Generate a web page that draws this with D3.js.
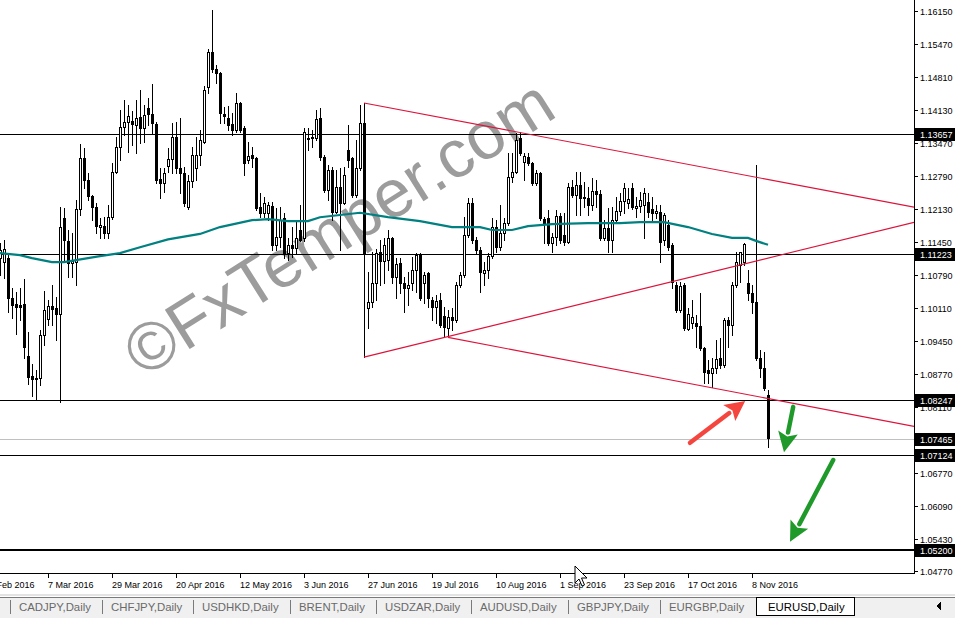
<!DOCTYPE html>
<html>
<head>
<meta charset="utf-8">
<script src="https://cdn.jsdelivr.net/npm/d3@7"></script>
<style>
  body { margin: 0; background: #fff; overflow: hidden; }
  svg { display: block; }
  text { font-family: "Liberation Sans", Arial, sans-serif; }
</style>
</head>
<body>
<svg id="chart" width="955" height="618"></svg>
<script>
// EURUSD daily, 18 Feb 2016 .. 14 Nov 2016 (one bar per weekday)
const opens = [
  1.1113,1.1105,1.1113,1.1032,1.1020,1.1018,1.1020,1.0914,1.0874,1.0870,
  1.0870,1.0957,1.0989,1.1016,1.1012,1.1000,1.1195,1.1148,1.1103,1.1105,
  1.1213,1.1316,1.1272,1.1239,1.1217,1.1176,1.1178,1.1164,1.1197,1.1288,
  1.1339,1.1379,1.1389,1.1391,1.1383,1.1400,1.1377,1.1418,1.1406,1.1385,
  1.1274,1.1266,1.1300,1.1314,1.1359,1.1296,1.1286,1.1217,1.1270,1.1296,
  1.1322,1.1349,1.1460,1.1531,1.1497,1.1489,1.1406,1.1397,1.1385,1.1373,
  1.1428,1.1377,1.1312,1.1322,1.1316,1.1217,1.1205,1.1205,1.1219,1.1140,
  1.1156,1.1195,1.1123,1.1140,1.1134,1.1170,1.1154,1.1355,1.1357,1.1357,
  1.1397,1.1318,1.1251,1.1292,1.1207,1.1257,1.1225,1.1333,1.1316,1.1241,
  1.1296,1.1387,1.1012,1.1024,1.1063,1.1125,1.1107,1.1109,1.1154,1.1075,
  1.1103,1.1063,1.1052,1.1063,1.1089,1.1119,1.1063,1.1083,1.1028,1.1014,
  1.1028,1.0996,1.0971,1.0994,1.0987,1.1059,1.1079,1.1160,1.1225,1.1150,
  1.1130,1.1083,1.1089,1.1117,1.1176,1.1136,1.1164,1.1184,1.1278,1.1288,
  1.1357,1.1308,1.1318,1.1306,1.1266,1.1286,1.1193,1.1195,1.1144,1.1156,
  1.1199,1.1160,1.1146,1.1257,1.1241,1.1262,1.1237,1.1235,1.1221,1.1249,
  1.1243,1.1154,1.1174,1.1150,1.1190,1.1209,1.1229,1.1225,1.1255,1.1215,
  1.1219,1.1221,1.1227,1.1213,1.1205,1.1207,1.1150,1.1180,1.1140,1.1059,
  1.1008,1.1059,1.0969,1.0981,1.0981,1.0975,1.0931,1.0886,1.0880,1.0890,
  1.0910,1.0896,1.0987,1.0977,1.1059,1.1099,1.1105,1.1063,1.1042,1.1024,
  1.0910,1.0890,1.0835
];
const highs = [
  1.1144,1.1150,1.1123,1.1052,1.1044,1.1052,1.1071,1.0963,1.0898,1.0886,
  1.0967,1.1046,1.1028,1.1059,1.1034,1.1217,1.1215,1.1170,1.1164,1.1231,
  1.1345,1.1337,1.1286,1.1241,1.1225,1.1195,1.1197,1.1221,1.1306,1.1359,
  1.1414,1.1434,1.1424,1.1412,1.1434,1.1454,1.1424,1.1438,1.1466,1.1389,
  1.1296,1.1296,1.1337,1.1387,1.1389,1.1397,1.1298,1.1282,1.1339,1.1359,
  1.1373,1.1462,1.1538,1.1617,1.1505,1.1491,1.1420,1.1422,1.1408,1.1448,
  1.1430,1.1381,1.1349,1.1339,1.1318,1.1245,1.1237,1.1227,1.1227,1.1215,
  1.1217,1.1205,1.1154,1.1176,1.1190,1.1221,1.1377,1.1377,1.1373,1.1414,
  1.1418,1.1322,1.1302,1.1298,1.1292,1.1296,1.1298,1.1383,1.1318,1.1353,
  1.1424,1.1428,1.1085,1.1125,1.1132,1.1150,1.1154,1.1170,1.1156,1.1113,
  1.1113,1.1075,1.1085,1.1115,1.1123,1.1123,1.1085,1.1085,1.1034,1.1038,
  1.1042,1.1014,1.1008,1.1012,1.1065,1.1085,1.1197,1.1235,1.1235,1.1156,
  1.1136,1.1105,1.1123,1.1195,1.1190,1.1221,1.1195,1.1326,1.1326,1.1367,
  1.1369,1.1326,1.1326,1.1308,1.1292,1.1288,1.1197,1.1211,1.1164,1.1211,
  1.1205,1.1205,1.1266,1.1272,1.1288,1.1288,1.1268,1.1257,1.1276,1.1272,
  1.1251,1.1190,1.1215,1.1217,1.1237,1.1245,1.1266,1.1255,1.1266,1.1237,
  1.1247,1.1255,1.1245,1.1237,1.1221,1.1221,1.1205,1.1190,1.1144,1.1065,
  1.1065,1.1063,1.1012,1.1028,1.0998,1.1042,1.0933,1.0906,1.0910,1.0947,
  1.0951,1.0992,1.0994,1.1065,1.1125,1.1125,1.1144,1.1089,1.1059,1.1302,
  1.0927,1.0922,1.0845
];
const lows = [
  1.1079,1.1073,1.1004,1.0992,1.0959,1.0987,1.0910,1.0858,1.0833,1.0827,
  1.0856,1.0937,1.0977,1.0977,1.0947,1.0821,1.1105,1.1075,1.1075,1.1059,
  1.1201,1.1255,1.1231,1.1190,1.1164,1.1154,1.1154,1.1154,1.1193,1.1286,
  1.1312,1.1363,1.1328,1.1343,1.1326,1.1347,1.1349,1.1383,1.1367,1.1266,
  1.1235,1.1247,1.1288,1.1286,1.1286,1.1245,1.1219,1.1213,1.1257,1.1272,
  1.1302,1.1347,1.1448,1.1491,1.1468,1.1387,1.1387,1.1373,1.1363,1.1369,
  1.1369,1.1282,1.1306,1.1298,1.1211,1.1197,1.1197,1.1190,1.1130,1.1130,
  1.1136,1.1113,1.1109,1.1115,1.1123,1.1148,1.1148,1.1333,1.1339,1.1353,
  1.1312,1.1247,1.1231,1.1190,1.1205,1.1130,1.1223,1.1298,1.1237,1.1237,
  1.1292,1.0912,1.0971,1.1014,1.1028,1.1059,1.1063,1.1089,1.1063,1.1032,
  1.1042,1.1004,1.1018,1.1048,1.1044,1.1028,1.1022,1.1014,1.0987,1.0981,
  1.0973,1.0955,1.0952,1.0967,1.0983,1.1054,1.1075,1.1156,1.1144,1.1123,
  1.1044,1.1059,1.1073,1.1113,1.1125,1.1130,1.1150,1.1180,1.1268,1.1286,
  1.1322,1.1272,1.1302,1.1262,1.1262,1.1190,1.1144,1.1140,1.1125,1.1140,
  1.1144,1.1140,1.1144,1.1237,1.1201,1.1201,1.1217,1.1201,1.1211,1.1217,
  1.1150,1.1150,1.1125,1.1125,1.1184,1.1201,1.1205,1.1215,1.1213,1.1197,
  1.1207,1.1154,1.1197,1.1190,1.1195,1.1105,1.1140,1.1130,1.1052,1.1004,
  1.1004,1.0967,1.0967,1.0971,1.0933,1.0927,1.0860,1.0860,1.0851,1.0880,
  1.0890,1.0892,1.0933,1.0957,1.1054,1.1065,1.1099,1.1028,1.1002,1.0906,
  1.0872,1.0845,1.0730
];
const closes = [
  1.1130,1.1132,1.1032,1.1018,1.1014,1.1014,1.0933,1.0872,1.0868,1.0868,
  1.0957,1.1008,1.1016,1.1010,1.1000,1.1176,1.1150,1.1103,1.1107,1.1213,
  1.1316,1.1272,1.1239,1.1217,1.1178,1.1180,1.1164,1.1197,1.1288,1.1339,
  1.1379,1.1389,1.1402,1.1385,1.1397,1.1377,1.1404,1.1406,1.1387,1.1272,
  1.1266,1.1286,1.1314,1.1359,1.1296,1.1286,1.1225,1.1270,1.1322,1.1322,
  1.1353,1.1454,1.1531,1.1497,1.1489,1.1408,1.1402,1.1383,1.1373,1.1428,
  1.1373,1.1306,1.1320,1.1316,1.1215,1.1205,1.1225,1.1221,1.1140,1.1156,
  1.1190,1.1123,1.1140,1.1134,1.1154,1.1150,1.1369,1.1357,1.1359,1.1395,
  1.1318,1.1251,1.1292,1.1207,1.1257,1.1225,1.1282,1.1312,1.1241,1.1296,
  1.1387,1.1123,1.1024,1.1063,1.1123,1.1107,1.1140,1.1154,1.1075,1.1101,
  1.1063,1.1052,1.1059,1.1089,1.1119,1.1032,1.1079,1.1032,1.1014,1.1026,
  1.0977,1.0973,1.0994,1.0987,1.1059,1.1079,1.1160,1.1225,1.1150,1.1130,
  1.1085,1.1089,1.1117,1.1176,1.1136,1.1164,1.1184,1.1278,1.1288,1.1353,
  1.1326,1.1320,1.1306,1.1266,1.1286,1.1195,1.1184,1.1144,1.1156,1.1199,
  1.1150,1.1146,1.1257,1.1241,1.1262,1.1235,1.1235,1.1221,1.1249,1.1243,
  1.1154,1.1174,1.1150,1.1190,1.1209,1.1229,1.1255,1.1233,1.1217,1.1219,
  1.1231,1.1245,1.1207,1.1205,1.1209,1.1146,1.1201,1.1136,1.1065,1.1008,
  1.1057,1.0971,1.1000,1.0994,1.0975,1.0931,1.0882,1.0880,1.0890,1.0908,
  1.0896,1.0987,1.0977,1.1059,1.1105,1.1125,1.1142,1.1042,1.1024,1.0910,
  1.0890,1.0849,1.0748
];

// moving average: [bar, price]
const maPoints = [
  [0,1.1123],[5,1.1119],[8,1.1113],[13,1.1105],[16,1.1105],[19,1.1109],[25,1.1117],
  [30,1.1123],[35,1.1135],[42,1.1151],[50,1.1162],[55,1.1176],[63,1.1190],[67,1.1192],
  [72,1.1188],[77,1.1188],[80,1.1196],[90,1.1205],[97,1.1196],[105,1.1188],[113,1.1176],
  [120,1.1176],[123,1.1170],[128,1.1170],[132,1.1178],[138,1.1182],[147,1.1184],[155,1.1184],
  [160,1.1186],[166,1.1186],[172,1.1176],[178,1.1162],[183,1.1154],[187,1.1154],[189,1.1148],
  [192,1.1140]
];

// trend rays: two anchor points [bar, price]
const trendRays = [
  [[91,1.1428],[130,1.1368]],
  [[91,1.0912],[192,1.1113]],
  [[112,1.0952],[192,1.0828]]
];

const levelPrices = [1.13657, 1.11223, 1.08247, 1.07465, 1.07124, 1.05200];
const priceTicks = [1.16150,1.15470,1.14810,1.14130,1.13470,1.12790,1.12130,1.11450,
  1.10790,1.10110,1.09450,1.08770,1.08110,1.06770,1.06090,1.05430,1.04770];
const dateTicks = ["2016-02-12","2016-03-07","2016-03-29","2016-04-20","2016-05-12","2016-06-03",
  "2016-06-27","2016-07-19","2016-08-10","2016-09-01","2016-09-23","2016-10-17","2016-11-08"];

// hand-drawn arrows: from -> to, [bar, price]
const redArrows = [[[172.5,1.0738],[186.3,1.0823]]];
const greenArrows = [[[198.3,1.0811],[196.0,1.0719]], [[208.3,1.0703],[197.5,1.0537]]];

const tabs = ["CADJPY,Daily","CHFJPY,Daily","USDHKD,Daily","BRENT,Daily","USDZAR,Daily",
  "AUDUSD,Daily","GBPJPY,Daily","EURGBP,Daily","EURUSD,Daily"];

// ---------------------------------------------------------------
const plotW = 914, plotH = 573;
const lastBar = 228.5;
const x = d3.scaleLinear().domain([0, lastBar]).range([0, plotW]);
const y = d3.scaleLinear().domain([1.04770, 1.16150]).range([571.4, 10.8]);

const parseDay = d3.timeParse("%Y-%m-%d");
const fmtDay = d3.timeFormat("%-d %b %Y");
const days = d3.timeDay.range(new Date(2016, 1, 12), new Date(2016, 11, 31))
  .filter(d => d.getDay() !== 0 && d.getDay() !== 6);
const firstBarDay = days.findIndex(d => +d === +new Date(2016, 1, 18));
const barOf = s => days.findIndex(d => +d === +parseDay(s)) - firstBarDay;

const svg = d3.select("#chart");
svg.append("defs").append("clipPath").attr("id", "plotClip")
  .append("rect").attr("width", plotW).attr("height", plotH);

// watermark sits behind everything
svg.append("text")
  .attr("transform", "translate(351,247) rotate(-32.3)")
  .attr("text-anchor", "middle")
  .attr("font-size", 67.5)
  .attr("fill", "#9c9c9c")
  .text("\u00A9FxTemper.com");

const plot = svg.append("g").attr("clip-path", "url(#plotClip)");

// horizontal levels
plot.append("g").attr("shape-rendering", "crispEdges")
  .selectAll("line").data(levelPrices).enter().append("line")
  .attr("x1", 0).attr("x2", plotW)
  .attr("y1", d => Math.round(y(d)) + (d === 1.052 ? 0 : 0.5))
  .attr("y2", d => Math.round(y(d)) + (d === 1.052 ? 0 : 0.5))
  .attr("stroke", d => d === 1.07465 ? "#c0c0c0" : "#000")
  .attr("stroke-width", d => d === 1.052 ? 2 : 1);

// candles
const bars = opens.map((o, i) => ({i, o, h: highs[i], l: lows[i], c: closes[i]}));
const cg = plot.append("g").attr("shape-rendering", "crispEdges");
bars.forEach(b => {
  const cx = Math.round(x(b.i));
  const yh = Math.round(y(b.h)), yl = Math.round(y(b.l));
  const yo = Math.round(y(b.o)), yc = Math.round(y(b.c));
  const top = Math.min(yo, yc), bot = Math.max(yo, yc);
  cg.append("rect").attr("x", cx).attr("y", yh).attr("width", 1).attr("height", yl - yh + 1).attr("fill", "#000");
  cg.append("rect").attr("x", cx - 1).attr("y", top).attr("width", 3).attr("height", bot - top + 1).attr("fill", "#000");
  if (b.c >= b.o && bot - top >= 2) {
    cg.append("rect").attr("x", cx).attr("y", top + 1).attr("width", 1).attr("height", bot - top - 1).attr("fill", "#fff");
  }
});

// moving average
plot.append("path").datum(maPoints)
  .attr("d", d3.line().x(d => x(d[0])).y(d => y(d[1])))
  .attr("fill", "none").attr("stroke", "#008080").attr("stroke-width", 2.2);

// trend rays, extended to the right edge
const rayPrice = (r, b) => r[0][1] + (r[1][1] - r[0][1]) * (b - r[0][0]) / (r[1][0] - r[0][0]);
plot.selectAll("line.ray").data(trendRays).enter().append("line")
  .attr("class", "ray")
  .attr("x1", r => x(r[0][0])).attr("y1", r => y(r[0][1]))
  .attr("x2", x(lastBar)).attr("y2", r => y(rayPrice(r, lastBar)))
  .attr("stroke", "#dc143c").attr("stroke-width", 1.1);

// arrows
function drawArrow(a, color) {
  const x1 = x(a[0][0]), y1 = y(a[0][1]), x2 = x(a[1][0]), y2 = y(a[1][1]);
  const ang = Math.atan2(y2 - y1, x2 - x1);
  const len = 20, half = 10;
  const bx = x2 - len * Math.cos(ang), by = y2 - len * Math.sin(ang);
  svg.append("line").attr("x1", x1).attr("y1", y1).attr("x2", bx).attr("y2", by)
    .attr("stroke", color).attr("stroke-width", 4.5).attr("stroke-linecap", "round");
  const px = -Math.sin(ang), py = Math.cos(ang);
  svg.append("polygon")
    .attr("points", [[x2, y2], [bx + px * half, by + py * half], [bx + 4 * Math.cos(ang), by + 4 * Math.sin(ang)], [bx - px * half, by - py * half]].map(p => p.join(",")).join(" "))
    .attr("fill", color);
}
redArrows.forEach(a => drawArrow(a, "#f4463f"));
greenArrows.forEach(a => drawArrow(a, "#1f9a2a"));

// right price scale
const axisG = svg.append("g").attr("shape-rendering", "crispEdges");
axisG.append("line").attr("x1", plotW + 0.5).attr("x2", plotW + 0.5).attr("y1", 0).attr("y2", plotH + 1).attr("stroke", "#000");
axisG.append("line").attr("x1", 0).attr("x2", plotW + 1).attr("y1", plotH + 0.5).attr("y2", plotH + 0.5).attr("stroke", "#000");

const pt = svg.append("g").selectAll("g").data(priceTicks).enter().append("g")
  .attr("transform", d => `translate(0,${Math.round(y(d))})`);
pt.append("line").attr("x1", plotW).attr("x2", plotW + 4).attr("y1", 0.5).attr("y2", 0.5)
  .attr("stroke", "#000").attr("shape-rendering", "crispEdges");
pt.append("text").attr("x", 920).attr("y", 4).attr("font-size", 9).attr("fill", "#000")
  .text(d => d.toFixed(5));

// highlighted level labels
const lv = svg.append("g").selectAll("g").data(levelPrices).enter().append("g")
  .attr("transform", d => `translate(0,${Math.round(y(d))})`);
lv.append("rect").attr("x", 915).attr("y", -6).attr("width", 40).attr("height", 13).attr("fill", "#000");
lv.append("text").attr("x", 920).attr("y", 4).attr("font-size", 9).attr("fill", "#fff")
  .text(d => d.toFixed(5));

// date scale
const dt = svg.append("g").selectAll("g").data(dateTicks).enter().append("g")
  .attr("transform", d => `translate(${Math.round(x(barOf(d)))},0)`);
dt.append("line").attr("x1", 0.5).attr("x2", 0.5).attr("y1", plotH).attr("y2", plotH + 5)
  .attr("stroke", "#000").attr("shape-rendering", "crispEdges");
dt.append("text").attr("x", 0).attr("y", 588).attr("font-size", 9).attr("fill", "#000")
  .text(d => fmtDay(parseDay(d)));

// mouse cursor
svg.append("polygon")
  .attr("points", "575,566 575,583 579,579 582,586 584.5,585 581.5,578 587,578")
  .attr("fill", "#fff").attr("stroke", "#000").attr("stroke-width", 1);

// tab strip
const tb = svg.append("g").attr("shape-rendering", "crispEdges");
tb.append("rect").attr("x", 0).attr("y", 594).attr("width", 955).attr("height", 2).attr("fill", "#e3e3e3");
tb.append("rect").attr("x", 0).attr("y", 597).attr("width", 955).attr("height", 21).attr("fill", "#f0f0f0");
tb.append("rect").attr("x", 0).attr("y", 597).attr("width", 955).attr("height", 1).attr("fill", "#7a7a7a");
let tx = 10;
tabs.forEach((t, k) => {
  const active = k === tabs.length - 1;
  if (!active) {
    tb.append("rect").attr("x", tx).attr("y", 600).attr("width", 1).attr("height", 14).attr("fill", "#7a7a7a");
    const txt = tb.append("text").attr("x", tx + 9).attr("y", 611).attr("font-size", 11.4)
      .attr("fill", "#6a6a6a").text(t);
    tx = Math.round(tx + 9 + txt.node().getComputedTextLength() + 11);
  } else {
    const left = Math.round(tx + 1);
    const box = tb.append("rect").attr("x", left + 0.5).attr("y", 597.5).attr("height", 18)
      .attr("fill", "#fff").attr("stroke", "#000");
    const txt = tb.append("text").attr("x", left + 12).attr("y", 611).attr("font-size", 11.4)
      .attr("fill", "#000").text(t);
    box.attr("width", Math.round(12 + txt.node().getComputedTextLength() + 9));
  }
});
tb.append("polygon").attr("points", "936,606 941,602 941,610").attr("fill", "#000");
</script>
</body>
</html>
